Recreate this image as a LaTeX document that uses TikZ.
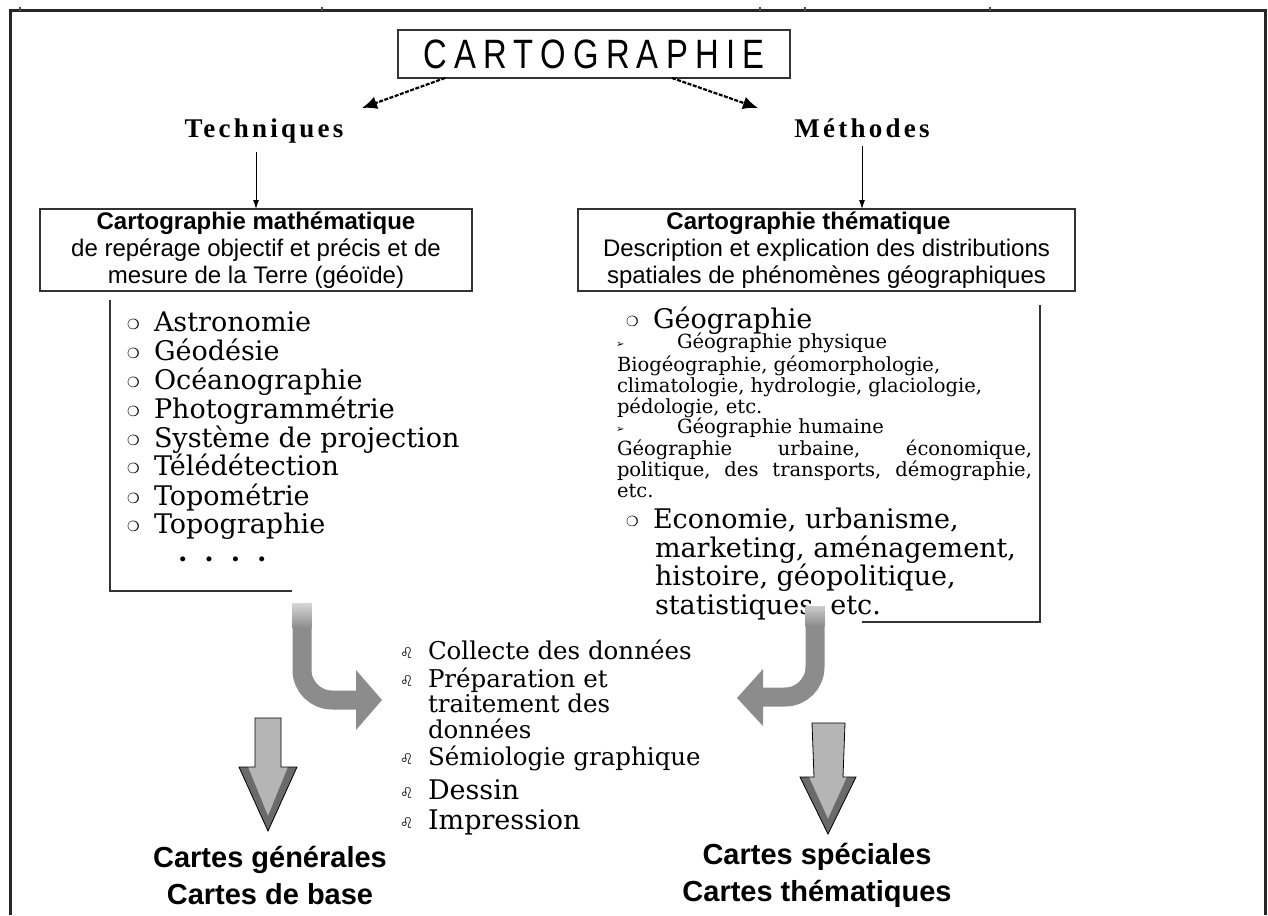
\documentclass[tikz,border=0pt]{standalone}
\usepackage{fontspec}
\setmainfont{DejaVu Serif}
\newfontfamily\arialfont{Liberation Sans}
\newfontfamily\titlefont[LetterSpace=22]{Liberation Sans}
\newfontfamily\headfont[LetterSpace=12]{Liberation Serif}
\newfontfamily\symfont{DejaVu Sans}
\usetikzlibrary{arrows.meta}

\definecolor{curvegray}{HTML}{8C8C8C}
\definecolor{blockfill}{HTML}{B5B5B5}
\definecolor{blockdark}{HTML}{6A6A6A}

% font size shortcuts (1pt = one unit of the drawing)
\newcommand\boxsize{\fontsize{24}{27}\selectfont}
\newcommand\bigser{\fontsize{27}{29}\selectfont}
\newcommand\midser{\fontsize{24.5}{27}\selectfont}
\newcommand\smallser{\fontsize{19.5}{21}\selectfont}
\newcommand\circbul{\makebox[27pt][l]{\raisebox{2pt}{\symfont\fontsize{14}{14}\selectfont ❍}}}
\newcommand\arrbul{\makebox[61pt][l]{\raisebox{1pt}{\symfont\fontsize{10}{10}\selectfont ➢}}}
\newcommand\leobul{\makebox[28pt][l]{\raisebox{1pt}{\symfont\fontsize{15}{15}\selectfont ♌}}}

\begin{document}
\begin{tikzpicture}[x=1pt,y=-1pt,
  every node/.style={inner sep=0pt, outer sep=0pt},
  titlebox/.style={draw=black!80, line width=1.6pt, minimum width=392pt, minimum height=48pt},
  infobox/.style={draw=black!80, line width=1.4pt, align=center, font=\arialfont\boxsize},
  headlabel/.style={anchor=base, font=\headfont\bfseries\fontsize{27}{27}\selectfont},
  item/.style={anchor=base west, font=\bigser},
  smallitem/.style={anchor=base west, font=\smallser},
  miditem/.style={anchor=base west, font=\midser},
  result/.style={align=center, font=\arialfont\bfseries\fontsize{29}{37}\selectfont},
  dasharrow/.style={line width=2.2pt, dash pattern=on 4pt off 1.5pt, -{Latex[length=15pt,width=13pt]}},
  thinarrow/.style={line width=0.9pt, -{Latex[length=9pt,width=6pt]}},
  bracket/.style={line width=1.5pt, black!80},
  curvearrow/.style={line width=19pt, curvegray, rounded corners=30pt},
]
\useasboundingbox (0,0) rectangle (1268,915);

% outer frame, open at the bottom
\draw[line width=3pt, black!85] (10,915) -- (10,11) -- (1265,11) -- (1265,915);
\foreach \tx in {20,322,760,805,990}
  \draw[line width=2pt, black!70] (\tx,7) -- (\tx,11);

% title
\node[titlebox] (carto) at (594,54)
  {\scalebox{0.8}[1]{\titlefont\fontsize{41}{41}\selectfont CARTOGRAPHIE}};

% two branches
\node[headlabel] (tech) at (264,138) {Techniques};
\node[headlabel] (meth) at (862,138) {Méthodes};
\coordinate (techtip) at (362,108);
\coordinate (methtip) at (758,108);
\draw[dasharrow] ([xshift=47pt]carto.south west) -- (techtip);
\draw[dasharrow] ([xshift=-118pt]carto.south east) -- (methtip);

% boxes
\node[infobox, minimum width=432pt, minimum height=82pt] (mathbox) at (256,250)
  {\textbf{Cartographie mathématique}\\de repérage objectif et précis et de\\mesure de la Terre (géoïde)};
\node[infobox, minimum width=497pt, minimum height=82pt] (themebox) at (826.5,250)
  {\textbf{Cartographie thématique}\hspace*{36pt}\\Description et explication des distributions\\spatiales de phénomènes géographiques};

\draw[thinarrow] (mathbox.north |- tech.south) ++(0,8) -- (mathbox.north);
\draw[thinarrow] (meth.south) ++(0,8) -- (meth.south |- themebox.north);

% left list
\draw[bracket] (110,300) -- (110,591) -- (292,591);
\foreach \t/\yy [count=\i] in {Astronomie/331, Géodésie/360, Océanographie/389,
    Photogrammétrie/418, Système de projection/447, Télédétection/475,
    Topométrie/505, Topographie/533}
  \node[item] (tl\i) at (127,\yy) {\circbul\t};
\node[item] (tdots) at (178,561) {\bfseries .\hspace{17pt}.\hspace{17pt}.\hspace{17pt}.};

% right list
\draw[bracket] (1040,305) -- (1040,622) -- (862,622);
\node[item] (geo) at (626,328) {\circbul Géographie};
\node[smallitem] (geophys) at (616,348) {\arrbul Géographie physique};
\node[smallitem] (r1) at (617,371) {Biogéographie, géomorphologie,};
\node[smallitem] (r2) at (617,392) {climatologie, hydrologie, glaciologie,};
\node[smallitem] (r3) at (617,413) {pédologie, etc.};
\node[smallitem] (geohum) at (616,433) {\arrbul Géographie humaine};
\node[smallitem] (r4) at (617,455) {\makebox[415pt][s]{Géographie\hfill urbaine,\hfill économique,}};
\node[smallitem] (r5) at (617,476) {\makebox[415pt][s]{politique,\hfill des\hfill transports,\hfill démographie,}};
\node[smallitem] (r6) at (617,497) {etc.};
\node[item] (eco1) at (626,528) {\circbul Economie, urbanisme,};
\node[item] (eco2) at (655,557) {marketing, aménagement,};
\node[item] (eco3) at (655,585) {histoire, géopolitique,};
\node[item] (eco4) at (655,614) {statistiques, etc.};

% middle list: making the map
\node[miditem] (m1) at (400,659) {\leobul Collecte des données};
\node[miditem] (m2) at (400,687) {\leobul Préparation et};
\node[miditem] (m3) at (428,712) {traitement des};
\node[miditem] (m4) at (428,738) {données};
\node[miditem] (m5) at (400,765) {\leobul Sémiologie graphique};
\node[miditem, font=\bigser] (m6) at (400,799) {\leobul Dessin};
\node[miditem, font=\bigser] (m7) at (400,829) {\leobul Impression};

% curved grey arrows feeding the middle list, fading in at their top
\draw[curvearrow] (302,603) |- (358,700);
\shade[top color=curvegray!35, bottom color=curvegray] (292.5,603) rectangle (311.5,628);
\fill[curvegray] (356,670) -- (382,700) -- (356,730) -- cycle;
\draw[curvearrow] (815,606) |- (760,697);
\shade[top color=curvegray!45, bottom color=curvegray] (805.5,606) rectangle (824.5,626);
\fill[curvegray] (763,669) -- (737,698) -- (763,726) -- cycle;

% block arrows to the results
\path[fill=blockfill] (255,718) -- (281,718) -- (281,767) -- (297,767) -- (268,831)
  -- (239,767) -- (255,767) -- cycle;
\fill[blockdark] (239,767) -- (268,831) -- (297,767) -- (288,767) -- (268,816) -- (248,767) -- cycle;
\draw[line width=0.8pt] (255,718) -- (281,718) -- (281,767) -- (297,767) -- (268,831)
  -- (239,767) -- (255,767) -- cycle;

\path[fill=blockfill] (812,723) -- (845,723) -- (843,777) -- (856,777) -- (828,834)
  -- (800,777) -- (814,777) -- cycle;
\fill[blockdark] (800,777) -- (828,834) -- (856,777) -- (847,777) -- (828,819) -- (809,777) -- cycle;
\draw[line width=0.8pt] (812,723) -- (845,723) -- (843,777) -- (856,777) -- (828,834)
  -- (800,777) -- (814,777) -- cycle;

% results
\node[result] (gen) at (270,875) {Cartes générales\\Cartes de base};
\node[result] (spec) at (817,875) {Cartes spéciales\\Cartes thématiques};
\end{tikzpicture}
\end{document}
